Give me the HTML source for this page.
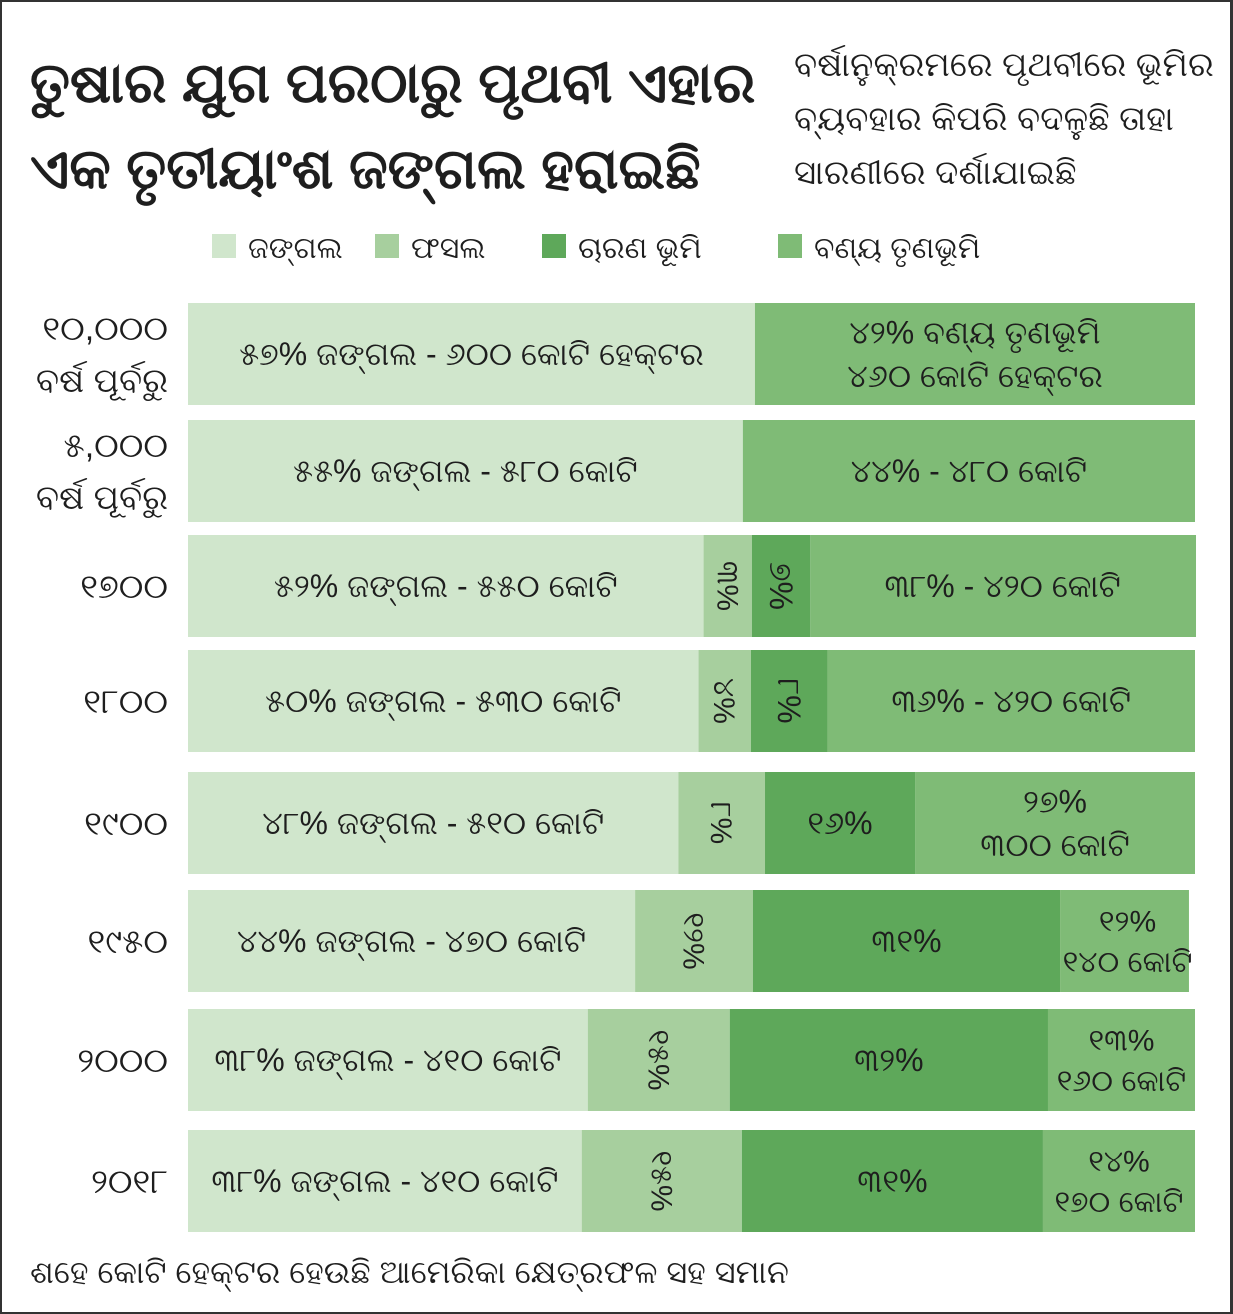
<!DOCTYPE html>
<html><head><meta charset="utf-8">
<style>
html,body{margin:0;padding:0;background:#fff}
#wrap{position:relative;width:1233px;height:1314px;box-sizing:border-box;border:2px solid #333;border-right:3px solid #333;overflow:hidden;font-family:"Liberation Sans","Noto Sans CJK SC",sans-serif;color:#1e1e1e}
.t{position:absolute;white-space:nowrap}
</style></head><body>
<div id="wrap">
<div class="t" style="left:28px;top:38px;font-size:56px;font-weight:bold;line-height:86px">ତୁଷାର ଯୁଗ ପରଠାରୁ ପୃଥବୀ ଏହାର<br>ଏକ ତୃତୀୟାଂଶ ଜଙ୍ଗଲ ହରାଇଛି</div>
<div class="t" style="left:792px;top:36px;font-size:34px;line-height:54px">ବର୍ଷାନୁକ୍ରମରେ ପୃଥବୀରେ ଭୂମିର<br>ବ୍ୟବହାର କିପରି ବଦଳୁଛି ତାହା<br>ସାରଣୀରେ ଦର୍ଶାଯାଇଛି</div>
<div class="t" style="left:28px;top:1252px;font-size:32px">ଶହେ କୋଟି ହେକ୍ଟର ହେଉଛି ଆମେରିକା କ୍ଷେତ୍ରଫଳ ସହ ସମାନ</div>
<svg id="chart" width="1233" height="1314" style="position:absolute;left:-2px;top:-2px"></svg>
</div>
<script>
const years=["୧୦,୦୦୦|ବର୍ଷ ପୂର୍ବରୁ","୫,୦୦୦|ବର୍ଷ ପୂର୍ବରୁ","୧୭୦୦","୧୮୦୦","୧୯୦୦","୧୯୫୦","୨୦୦୦","୨୦୧୮"];
const forest=[56.3,55.1,51.2,50.7,48.7,44.4,39.7,39.1];
const crop=[0,0,4.8,5.2,8.6,11.7,14.1,15.9];
const pasture=[0,0,5.8,7.6,14.9,30.5,31.6,29.9];
const grass=[43.7,44.9,38.3,36.5,27.8,12.8,14.6,15.1];
const forestLbl=["୫୭% ଜଙ୍ଗଲ - ୬୦୦ କୋଟି ହେକ୍ଟର","୫୫% ଜଙ୍ଗଲ - ୫୮୦ କୋଟି","୫୨% ଜଙ୍ଗଲ - ୫୫୦ କୋଟି","୫୦% ଜଙ୍ଗଲ - ୫୩୦ କୋଟି","୪୮% ଜଙ୍ଗଲ - ୫୧୦ କୋଟି","୪୪% ଜଙ୍ଗଲ - ୪୭୦ କୋଟି","୩୮% ଜଙ୍ଗଲ - ୪୧୦ କୋଟି","୩୮% ଜଙ୍ଗଲ - ୪୧୦ କୋଟି"];
const cropLbl=["","","୩%","୪%","୮%","୧୨%","୧୫%","୧୫%"];
const pastureLbl=["","","୭%","୮%","୧୬%","୩୧%","୩୨%","୩୧%"];
const grassLbl=["୪୨% ବଣ୍ୟ ତୃଣଭୂମି|୪୬୦ କୋଟି ହେକ୍ଟର","୪୪% - ୪୮୦ କୋଟି","୩୮% - ୪୨୦ କୋଟି","୩୬% - ୪୨୦ କୋଟି","୨୭%|୩୦୦ କୋଟି","୧୨%|୧୪୦ କୋଟି","୧୩%|୧୬୦ କୋଟି","୧୪%|୧୭୦ କୋଟି"];
const legendNames=["ଜଙ୍ଗଲ","ଫସଲ","ଚାରଣ ଭୂମି","ବଣ୍ୟ ତୃଣଭୂମି"];
const colors=["#d0e6cc","#a7cf9e","#5ea85a","#7fbb76"];
const NS="http://www.w3.org/2000/svg";
const svg=document.getElementById('chart');
const X0=188,W=1007;
const rowTops=[303,420,535,650,772,890,1009,1130];
const H=102;
function x(v){return X0+v/100*W;}
function mk(tag,attrs){const e=document.createElementNS(NS,tag);for(const k in attrs)e.setAttribute(k,attrs[k]);svg.appendChild(e);return e;}
function txt(str,cx,cy,size,rot){
  const lines=str.split('|');
  lines.forEach((l,i)=>{
    const t=mk('text',{x:cx,y:cy+(i-(lines.length-1)/2)*(size*1.35)+size*0.35,'font-size':size,'text-anchor':'middle','fill':'#1e1e1e','font-family':'Liberation Sans, sans-serif'});
    if(rot)t.setAttribute('transform','rotate(90 '+cx+' '+(cy)+')');
    t.textContent=l;
    
    
  });
}
// legend
const legX=[212,375,542,778];
legendNames.forEach((n,i)=>{
  const r=mk('rect',{x:legX[i],y:234,width:24,height:24,fill:colors[i]});
  
  
  const t=mk('text',{x:legX[i]+36,y:258,'font-size':30,fill:'#1e1e1e','font-family':'Liberation Sans, sans-serif'});
  t.textContent=n;
  
  
});
years.forEach((yr,i)=>{
  const y=rowTops[i];
  const segs=[forest[i],crop[i],pasture[i],grass[i]];
  let acc=0;
  segs.forEach((v,j)=>{
    if(v<=0)return;
    const r=mk('rect',{x:x(acc),y:y,width:x(acc+v)-x(acc),height:H,fill:colors[j]});
    
    
    acc+=v;
  });
  const cy=y+H/2;
  txt(forestLbl[i],(x(0)+x(forest[i]))/2,cy,32,false);
  let a=forest[i];
  if(crop[i]>0)txt(cropLbl[i],(x(a)+x(a+crop[i]))/2,cy,30,true);
  a+=crop[i];
  if(pasture[i]>0)txt(pastureLbl[i],(x(a)+x(a+pasture[i]))/2,cy,32,pasture[i]<10);
  a+=pasture[i];
  const gl=grassLbl[i];
  txt(gl,(x(a)+x(100))/2,cy,gl.includes('|')&&grass[i]<20?30:32,false);
  const yl=yr.split('|');
  yl.forEach((l,k)=>{
    const t=mk('text',{x:168,y:cy+(k-(yl.length-1)/2)*52+12,'font-size':34,'text-anchor':'end',fill:'#1e1e1e','font-family':'Liberation Sans, sans-serif'});
    t.textContent=l;
    
    
  });
});
</script>
</body></html>
